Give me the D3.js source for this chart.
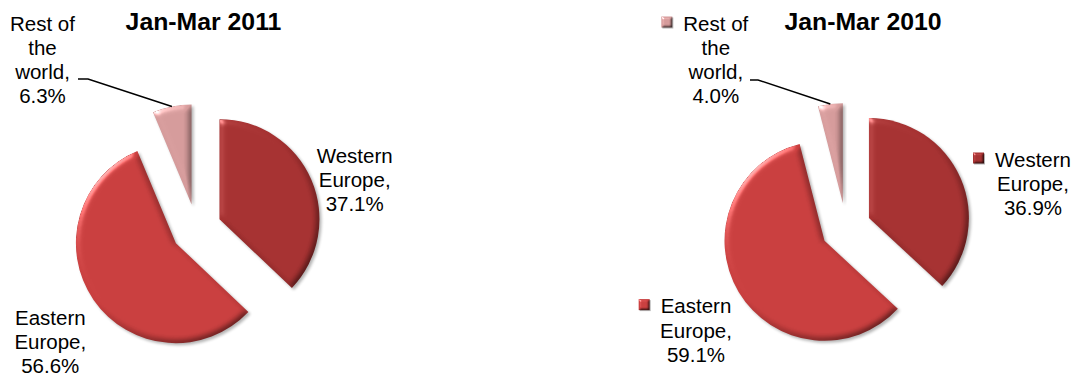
<!DOCTYPE html>
<html>
<head>
<meta charset="utf-8">
<script src="https://cdn.jsdelivr.net/npm/d3@7"></script>
<style>
  html, body { margin: 0; padding: 0; background: #ffffff; }
  svg { display: block; font-family: "Liberation Sans", Arial, sans-serif; }
</style>
</head>
<body>
<svg id="chart" width="1078" height="378"></svg>
<script>
// ---- data ----
const categories = ["Western Europe", "Eastern Europe", "Rest of the world"];
const labelLines = [["Western", "Europe,"], ["Eastern", "Europe,"], ["Rest of", "the", "world,"]];
const values2011 = [37.1, 56.6, 6.3];
const values2010 = [36.9, 59.1, 4.0];
const titles = ["Jan-Mar 2011", "Jan-Mar 2010"];
const colors = ["#a53131", "#c83e3e", "#d49a9a"];

// ---- layout ----
const R = 100, EXPLODE = 25, LINE_H = 24.2, FONT = 20.5;
const charts = [
  { title: titles[0], values: values2011, cx: 196.5, cy: 229, titleX: 203.5, keys: false,
    labels: [{ x: 354.7, y: 163 }, { x: 50.3, y: 325 }, { x: 42.5, y: 30.5 }],
    leader: { x0: 78, x1: 88, y: 79 } },
  { title: titles[1], values: values2010, cx: 846, cy: 228, titleX: 863, keys: true,
    labels: [{ x: 1033, y: 166.7 }, { x: 696, y: 313.3 }, { x: 715.8, y: 30.7 }],
    leader: { x0: 750, x1: 758, y: 80 } }
];

const svg = d3.select("#chart");
const defs = svg.append("defs");

function bevelFilter(id, blur, scale, shadow, ks) {
  const f = defs.append("filter").attr("id", id)
    .attr("x", "-15%").attr("y", "-15%").attr("width", "130%").attr("height", "130%")
    .attr("color-interpolation-filters", "sRGB");
  f.append("feGaussianBlur").attr("in", "SourceAlpha").attr("stdDeviation", blur).attr("result", "blur");
  const diff = f.append("feDiffuseLighting").attr("in", "blur").attr("surfaceScale", scale)
    .attr("diffuseConstant", 1.414).attr("lighting-color", "#ffffff").attr("result", "diff");
  diff.append("feDistantLight").attr("azimuth", 225).attr("elevation", 45);
  f.append("feComposite").attr("in", "SourceGraphic").attr("in2", "diff").attr("operator", "arithmetic")
    .attr("k1", 1).attr("k2", 0).attr("k3", 0).attr("k4", 0).attr("result", "shaded");
  const spec = f.append("feSpecularLighting").attr("in", "blur").attr("surfaceScale", scale)
    .attr("specularConstant", ks).attr("specularExponent", 50).attr("lighting-color", "#ffffff").attr("result", "spec");
  spec.append("feDistantLight").attr("azimuth", 225).attr("elevation", 45);
  f.append("feComposite").attr("in", "spec").attr("in2", "SourceAlpha").attr("operator", "in").attr("result", "specIn");
  f.append("feComposite").attr("in", "shaded").attr("in2", "specIn").attr("operator", "arithmetic")
    .attr("k1", 0).attr("k2", 1).attr("k3", 1).attr("k4", 0).attr("result", "lit");
  f.append("feGaussianBlur").attr("in", "SourceAlpha").attr("stdDeviation", shadow).attr("result", "sb");
  f.append("feOffset").attr("in", "sb").attr("dx", shadow).attr("dy", shadow * 1.2).attr("result", "so");
  f.append("feComponentTransfer").attr("in", "so").attr("result", "shadow")
    .append("feFuncA").attr("type", "linear").attr("slope", 0.3);
  const m = f.append("feMerge");
  m.append("feMergeNode").attr("in", "shadow");
  m.append("feMergeNode").attr("in", "lit");
}
bevelFilter("bevel", 3, 1.6, 1.6, 0.45);
bevelFilter("bevelSmall", 1.2, 1.2, 0.6, 0.5);

const pie = d3.pie().sort(null).value(d => d);
const arc = d3.arc().innerRadius(0).outerRadius(R);

charts.forEach(ch => {
  const g = svg.append("g");
  const arcs = pie(ch.values);
  const offset = a => {
    const mid = (a.startAngle + a.endAngle) / 2;
    return [EXPLODE * Math.sin(mid), -EXPLODE * Math.cos(mid)];
  };

  // slices
  g.selectAll("path.slice").data(arcs).join("path")
    .attr("class", "slice")
    .attr("d", arc)
    .attr("transform", d => { const o = offset(d); return `translate(${ch.cx + o[0]},${ch.cy + o[1]})`; })
    .attr("fill", (d, i) => colors[i])
    .attr("filter", "url(#bevel)");

  // title
  svg.append("text").attr("x", ch.titleX).attr("y", 29.5)
    .attr("text-anchor", "middle").attr("font-weight", "bold").attr("font-size", 24.8)
    .attr("fill", "#000").text(ch.title);

  // labels
  arcs.forEach((a, i) => {
    const pos = ch.labels[i];
    const lines = labelLines[i].concat([d3.format(".1f")(ch.values[i]) + "%"]);
    const t = svg.append("text").attr("font-size", FONT).attr("text-anchor", "middle").attr("fill", "#000");
    lines.forEach((ln, k) => {
      t.append("tspan").attr("x", pos.x).attr("y", pos.y + k * LINE_H).text(ln);
    });
    if (ch.keys) {
      const w = t.select("tspan").node().getComputedTextLength();
      const ks = 11;
      svg.append("rect")
        .attr("x", pos.x - w / 2 - 11 - ks).attr("y", pos.y - 8.7 - ks / 2)
        .attr("width", ks).attr("height", ks)
        .attr("fill", colors[i]).attr("filter", "url(#bevelSmall)");
    }
  });

  // leader line to the smallest slice (Rest of the world)
  const rest = arcs[2];
  const o = offset(rest);
  const mid = (rest.startAngle + rest.endAngle) / 2;
  const ex = ch.cx + o[0] + R * Math.sin(mid);
  const ey = ch.cy + o[1] - R * Math.cos(mid);
  svg.append("path")
    .attr("d", d3.line()([[ch.leader.x0, ch.leader.y], [ch.leader.x1, ch.leader.y], [ex, ey]]))
    .attr("fill", "none").attr("stroke", "#000").attr("stroke-width", 1.5);
});
</script>
</body>
</html>
